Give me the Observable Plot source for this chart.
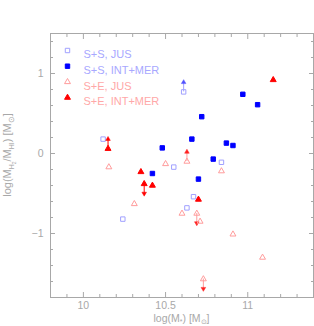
<!DOCTYPE html>
<html><head><meta charset="utf-8">
<script src="https://cdn.jsdelivr.net/npm/d3@7"></script>
<script src="https://cdn.jsdelivr.net/npm/@observablehq/plot@0.6"></script>
<style>
html,body{margin:0;padding:0;background:#fff;}
#chart{width:314px;height:326px;position:relative;}
</style></head><body><div id="chart"></div>
<script>
// ---- data ----
const seriesNames = ["S+S, JUS", "S+S, INT+MER", "S+E, JUS", "S+E, INT+MER"];

const ssJusX = [10.12, 10.24, 10.61, 10.55, 10.84, 10.67, 10.63];
const ssJusY = [0.18, -0.82, 0.77, -0.17, -0.11, -0.54, -0.68];
const ssJusLim = ["", "", "up", "", "", "", ""];

const ssIntX = [10.48, 10.42, 10.66, 10.87, 10.91, 10.79, 10.70, 10.72, 10.97, 11.06];
const ssIntY = [0.07, -0.25, 0.18, 0.13, 0.10, -0.07, -0.32, 0.46, 0.74, 0.61];
const ssIntLim = ["", "", "", "", "", "", "", "", "", ""];

const seJusX = [10.155, 10.50, 10.63, 10.84, 10.31, 10.60, 10.69, 10.71, 10.91, 11.09, 10.73];
const seJusY = [-0.17, -0.13, -0.10, -0.22, -0.63, -0.75, -0.75, -0.85, -1.01, -1.30, -1.57];
const seJusLim = ["", "", "up", "", "", "", "down", "", "", "", "down"];

const seIntX = [10.15, 10.35, 10.37, 10.42, 10.70, 11.155];
const seIntY = [0.06, -0.23, -0.38, -0.40, -0.575, 0.92];
const seIntLim = ["up", "", "down", "", "", ""];

const xMajorTicks = [10, 10.5, 11];
const xMinorTicks = [9.9, 10.1, 10.2, 10.3, 10.4, 10.6, 10.7, 10.8, 10.9, 11.1, 11.2, 11.3];
const yMajorTicks = [-1, 0, 1];
const yMinorTicks = [-1.6, -1.4, -1.2, -0.8, -0.6, -0.4, -0.2, 0.2, 0.4, 0.6, 0.8, 1.2, 1.4];

// ---- styles ----
const styles = {
  "S+S, JUS":      {symbol: "square",   fill: "none",    stroke: "#a0a0ff", r: 2.5, head: "#5050ff", text: "#a8a8ff"},
  "S+S, INT+MER":  {symbol: "square",   fill: "#0000ff", stroke: "#0000ff", r: 2.5, head: "#0000ff", text: "#a8a8ff"},
  "S+E, JUS":      {symbol: "triangle", fill: "none",    stroke: "#ff9c9c", r: 2.2, head: "#ff2020", text: "#ffa8a8"},
  "S+E, INT+MER":  {symbol: "triangle", fill: "#ff0000", stroke: "#ff0000", r: 2.2, head: "#ff0000", text: "#ffa8a8"}
};

function build(name, xs, ys, lims) {
  return xs.map((x, i) => ({series: name, x, y: ys[i], lim: lims[i]}));
}
const groups = [
  build(seriesNames[0], ssJusX, ssJusY, ssJusLim),
  build(seriesNames[1], ssIntX, ssIntY, ssIntLim),
  build(seriesNames[2], seJusX, seJusY, seJusLim),
  build(seriesNames[3], seIntX, seIntY, seIntLim)
];

const W = 314, H = 326, mL = 50, mR = 1, mT = 33, mB = 29;
const grey = "#a8a8a8";
const arrowLen = 0.12;

const marks = [];
// axes ticks (inward)
const tickOpts = {stroke: grey, tickFormat: () => "", label: null};
marks.push(Plot.axisX(xMajorTicks, {...tickOpts, anchor: "bottom", tickSize: -5}));
marks.push(Plot.axisX(xMinorTicks, {...tickOpts, anchor: "bottom", tickSize: -3}));
marks.push(Plot.axisX(xMajorTicks, {...tickOpts, anchor: "top", tickSize: -5}));
marks.push(Plot.axisX(xMinorTicks, {...tickOpts, anchor: "top", tickSize: -3}));
marks.push(Plot.axisY(yMajorTicks, {...tickOpts, anchor: "left", tickSize: -5}));
marks.push(Plot.axisY(yMinorTicks, {...tickOpts, anchor: "left", tickSize: -3}));
marks.push(Plot.axisY(yMajorTicks, {...tickOpts, anchor: "right", tickSize: -5}));
marks.push(Plot.axisY(yMinorTicks, {...tickOpts, anchor: "right", tickSize: -3}));
// tick labels
marks.push(Plot.axisX(xMajorTicks, {anchor: "bottom", tickSize: 0, tickPadding: 4, stroke: null, fill: grey, fontSize: 10.5, label: null, tickFormat: d => String(d)}));
marks.push(Plot.axisY(yMajorTicks, {anchor: "left", tickSize: 0, tickPadding: 7, stroke: null, fill: grey, fontSize: 10.5, label: null, tickFormat: d => d < 0 ? "\u2212" + Math.abs(d) : String(d)}));
marks.push(Plot.frame({stroke: grey}));

// points, limit arrows
groups.forEach(g => {
  const s = styles[g[0].series];
  const lim = g.filter(d => d.lim);
  marks.push(Plot.ruleX(lim, {x: "x", y1: "y", y2: d => d.y + (d.lim === "up" ? arrowLen : -arrowLen), stroke: s.stroke, strokeWidth: 1}));
  marks.push(Plot.dot(lim, {x: "x", y: d => d.y + (d.lim === "up" ? arrowLen : -arrowLen), symbol: "triangle", r: 1.7, fill: s.head, stroke: s.head, strokeWidth: 0.5, rotate: d => d.lim === "up" ? 0 : 180}));
  marks.push(Plot.dot(g, {x: "x", y: "y", symbol: s.symbol, r: s.r, fill: s.fill, stroke: s.stroke, strokeWidth: 1}));
});

// legend
seriesNames.forEach((name, i) => {
  const s = styles[name];
  marks.push(Plot.dot([name], {frameAnchor: "top-left", dx: 17, dy: 17 + i * 15.7, symbol: s.symbol, r: s.r, fill: s.fill, stroke: s.stroke, strokeWidth: 1}));
  marks.push(Plot.text([name], {frameAnchor: "top-left", dx: 33, dy: 17 + i * 15.7, text: d => d, textAnchor: "start", fill: s.text, fontSize: 11}));
});

const plot = Plot.plot({
  width: W, height: H,
  marginLeft: mL, marginRight: mR, marginTop: mT, marginBottom: mB,
  style: {fontFamily: "'Liberation Sans', Arial, sans-serif", fontSize: "11px", background: "#fff"},
  x: {domain: [9.8, 11.4], axis: null},
  y: {domain: [-1.8, 1.5], axis: null},
  marks
});
document.getElementById("chart").appendChild(plot);

// axis titles with subscripts
const svg = d3.select(plot);
const cx = mL + (W - mL - mR) / 2;
const cy = mT + (H - mT - mB) / 2 - 10;
const xt = svg.append("text").attr("x", cx).attr("y", H - 4).attr("text-anchor", "middle")
  .attr("fill", grey).attr("font-size", 10.5).attr("font-family", "'Liberation Sans', Arial, sans-serif");
xt.append("tspan").text("log(M");
xt.append("tspan").attr("font-size", 7).attr("dy", 2).text("*");
xt.append("tspan").attr("dy", -2).text(") [M");
xt.append("tspan").attr("font-size", 7).attr("dy", 2).text("\u2299");
xt.append("tspan").attr("dy", -2).text("]");

const yt = svg.append("text").attr("transform", `translate(11,${cy}) rotate(-90)`).attr("text-anchor", "middle")
  .attr("fill", grey).attr("font-size", 11).attr("font-family", "'Liberation Sans', Arial, sans-serif");
yt.append("tspan").text("log(M");
yt.append("tspan").attr("font-size", 7).attr("dy", 3).text("H");
yt.append("tspan").attr("font-size", 5).attr("dy", 1.5).text("2");
yt.append("tspan").attr("dy", -4.5).text("/M");
yt.append("tspan").attr("font-size", 7).attr("dy", 3).text("HI");
yt.append("tspan").attr("dy", -3).text(") [M");
yt.append("tspan").attr("font-size", 8).attr("dy", 3).text("\u2299");
yt.append("tspan").attr("dy", -3).text("]");
</script></body></html>
